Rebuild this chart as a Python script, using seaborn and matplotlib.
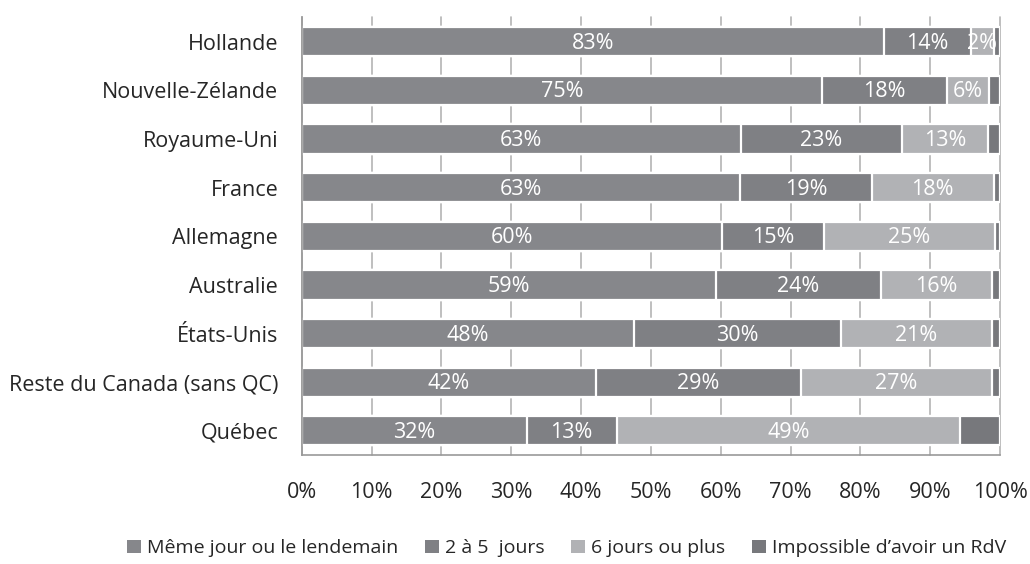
import numpy as np
import pandas as pd
import seaborn as sns
from matplotlib import pyplot as plt
from matplotlib.patches import Patch

countries = [
    "Hollande",
    "Nouvelle-Zélande",
    "Royaume-Uni",
    "France",
    "Allemagne",
    "Australie",
    "États-Unis",
    "Reste du Canada (sans QC)",
    "Québec",
]
meme_jour = [83.4, 74.5, 62.9, 62.8, 60.2, 59.3, 47.5, 42.1, 32.2]
deux_cinq = [12.4, 17.9, 23.0, 18.8, 14.6, 23.6, 29.7, 29.4, 12.9]
six_plus = [3.3, 6.0, 12.4, 17.5, 24.4, 15.9, 21.6, 27.3, 49.2]
impossible = [0.9, 1.6, 1.7, 0.9, 0.8, 1.2, 1.2, 1.2, 5.7]

lab_meme = ["83%", "75%", "63%", "63%", "60%", "59%", "48%", "42%", "32%"]
lab_deux = ["14%", "18%", "23%", "19%", "15%", "24%", "30%", "29%", "13%"]
lab_six = ["2%", "6%", "13%", "18%", "25%", "16%", "21%", "27%", "49%"]

series = ["Même jour ou le lendemain", "2 à 5  jours", "6 jours ou plus", "Impossible d’avoir un RdV"]
colors = ["#86878b", "#7f8084", "#b1b2b5", "#77787c"]

FS = 15.5

if __name__ == "__main__":
    sns.set_style("white")
    plt.rcParams["font.family"] = ["Open Sans", "DejaVu Sans"]

    df = pd.DataFrame(
        {
            "pays": countries,
            "s1": meme_jour,
            "s2": deux_cinq,
            "s3": six_plus,
            "s4": impossible,
        }
    )
    df["c1"] = df.s1
    df["c2"] = df.c1 + df.s2
    df["c3"] = df.c2 + df.s3
    df["c4"] = df.c3 + df.s4

    f, ax = plt.subplots(figsize=(10.30, 5.64), dpi=100)
    f.subplots_adjust(left=0.293, right=0.971, top=0.969, bottom=0.193)

    ax.set_axisbelow(True)
    ax.grid(axis="x", color="#b4b4b4", linewidth=1.2)

    # overdraw cumulative bars, biggest first
    for cum, color in zip(["c4", "c3", "c2", "c1"], colors[::-1]):
        sns.barplot(
            data=df,
            x=cum,
            y="pays",
            orient="h",
            color=color,
            saturation=1,
            width=0.6,
            edgecolor="white",
            linewidth=1.6,
            ax=ax,
        )

    for i in range(len(countries)):
        starts = [0, df.c1[i], df.c2[i]]
        widths = [df.s1[i], df.s2[i], df.s3[i]]
        texts = [lab_meme[i], lab_deux[i], lab_six[i]]
        for s, w, t in zip(starts, widths, texts):
            ax.text(
                s + w / 2, i + 0.03, t,
                ha="center", va="center", color="white", fontsize=FS, clip_on=True,
            )

    ax.set_xlim(0, 100)
    ax.set_ylim(len(countries) - 0.5, -0.5)
    ax.set_xticks(np.arange(0, 101, 10))
    ax.set_xticklabels([f"{v}%" for v in range(0, 101, 10)])
    ax.set_yticks(np.arange(-0.5, len(countries), 1), minor=True)
    ax.tick_params(axis="y", which="major", length=0, pad=17, labelsize=FS, labelcolor="#262626")
    ax.tick_params(axis="y", which="minor", length=6, color="#999999", width=1.2)
    ax.tick_params(axis="x", length=6, color="#999999", width=1.2, pad=13, labelsize=FS, labelcolor="#262626")
    ax.set_xlabel("")
    ax.set_ylabel("")
    for gl in ax.get_xgridlines():
        gl.set_clip_on(False)

    for side in ["top", "right"]:
        ax.spines[side].set_visible(False)
    for side in ["left", "bottom"]:
        ax.spines[side].set_color("#999999")
        ax.spines[side].set_linewidth(1.2)

    handles = [Patch(facecolor=c, edgecolor="none") for c in colors]
    f.legend(
        handles, series,
        loc="center", bbox_to_anchor=(0.55, 0.028), ncol=4, frameon=False,
        fontsize=14, handlelength=0.7, handleheight=0.7, handletextpad=0.3,
        columnspacing=1.4, labelcolor="#262626",
    )

    plt.savefig("out.png", dpi=100)
